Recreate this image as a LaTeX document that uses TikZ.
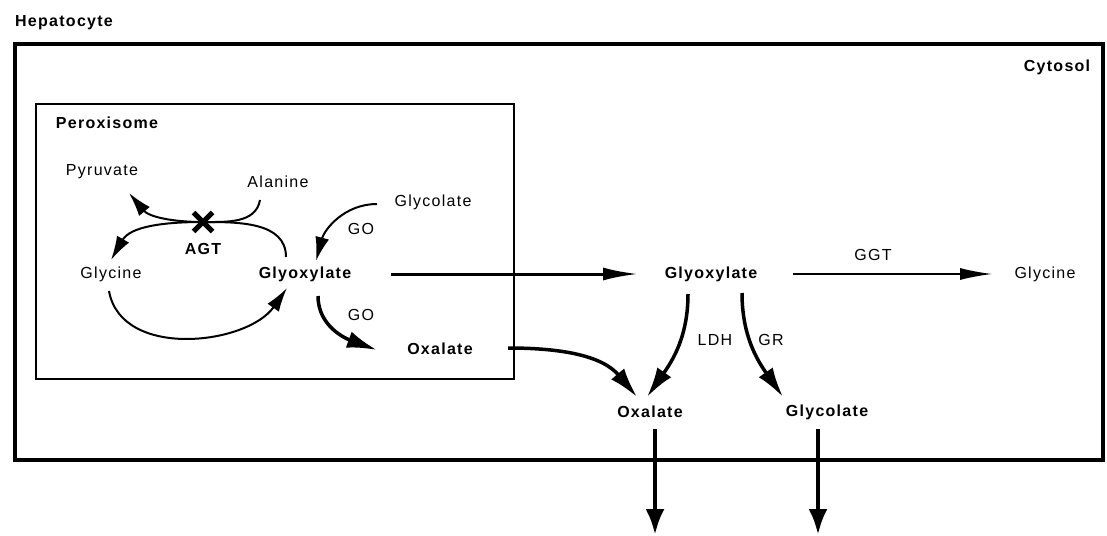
\documentclass[tikz,border=0pt]{standalone}
\usepackage{fontspec}
\setmainfont{Liberation Sans}[LetterSpace=8]
\usetikzlibrary{shapes,arrows.meta,calc}

\begin{document}
\begin{tikzpicture}[x=1pt, y=-1pt,
  lbl/.style={font=\fontsize{16}{18}\selectfont, inner sep=0pt},
  blbl/.style={font=\fontsize{16}{18}\selectfont\bfseries, inner sep=0pt},
  rxn/.style={line width=2pt, -{Latex[length=24pt,width=14pt]}},
  heavy/.style={line width=3.5pt, -{Latex[length=30pt,width=17pt]}},
  transport/.style={line width=3pt, -{Latex[length=35pt,width=13pt]}},
  minor/.style={line width=1.5pt, -{Latex[length=32pt,width=12pt]}},
  export/.style={line width=4.5pt, -{Latex[length=26pt,width=19pt]}}]
  \useasboundingbox (0,0) rectangle (1107,535);
  \draw[line width=4.5pt] (15,44) rectangle (1103,460);
  \draw[line width=1.5pt] (36,104) rectangle (514,379);

  \node[blbl] (hep) at (64,23) {Hepatocyte};
  \node[blbl] (cyt) at (1057,67) {Cytosol};
  \node[blbl] (per) at (107,123) {Peroxisome};
  \node[lbl] (pyr) at (102,172) {Pyruvate};
  \node[lbl] (ala) at (278,182) {Alanine};
  \node[draw, cross out, line width=5pt, minimum size=14pt, inner sep=0pt] (xm) at (203,222) {};
  \node[blbl] (agt) at (203,249) {AGT};
  \node[lbl] (glyi) at (111,274) {Glycine};
  \node[blbl] (glxi) at (305,274) {Glyoxylate};
  \node[lbl] (glci) at (433,202) {Glycolate};
  \node[lbl] (go1) at (361,229) {GO};
  \node[lbl] (go2) at (361,315) {GO};
  \node[blbl] (oxi) at (440,349) {Oxalate};
  \node[blbl] (glx) at (711,274) {Glyoxylate};
  \node[lbl] (ggt) at (873,255) {GGT};
  \node[lbl] (gly) at (1045,274) {Glycine};
  \node[lbl] (ldh) at (715,340) {LDH};
  \node[lbl] (gr) at (771,340) {GR};
  \node[blbl] (ox) at (650,412) {Oxalate};
  \node[blbl] (glc) at (827,412) {Glycolate};
  \coordinate (out1) at (655,535);
  \coordinate (out2) at (818,535);

  \draw[rxn] ($(ala)+(-18,18)$) to[out=-100,in=0] (xm.center) to[out=180,in=-50] ($(pyr)+(27,21)$);
  \draw[rxn] ($(glxi)+(-19,-17)$) to[out=90,in=0] (xm.center) to[out=180,in=60] ($(glyi)+(0,-14)$);
  \draw[rxn] ($(glyi)+(-2,17)$) to[out=-80,in=-125] ($(glxi)+(-18,14)$);
  \draw[rxn] ($(glci)+(-56,2)$) to[out=180,in=75] ($(glxi)+(11,-13)$);
  \draw[heavy] ($(glxi)+(13,22)$) to[out=-90,in=160] ($(oxi)+(-63,1)$);
  \draw[transport] ($(glxi)+(86,0)$) -- ($(glx)+(-73,0)$);
  \draw[minor] ($(glx)+(82,0)$) -- ($(gly)+(-53,0)$);
  \draw[heavy] ($(glx)+(-23,20)$) to[out=-90,in=55] ($(ox)+(-3,-15)$);
  \draw[heavy] ($(glx)+(31,19)$) to[out=-90,in=125] ($(glc)+(-44,-15)$);
  \draw[heavy] ($(oxi)+(68,-1)$) to[out=0,in=130] ($(ox)+(-13,-15)$);
  \draw[export] ($(ox)+(5,17)$) -- (out1);
  \draw[export] ($(glc)+(-9,17)$) -- (out2);
\end{tikzpicture}
\end{document}
